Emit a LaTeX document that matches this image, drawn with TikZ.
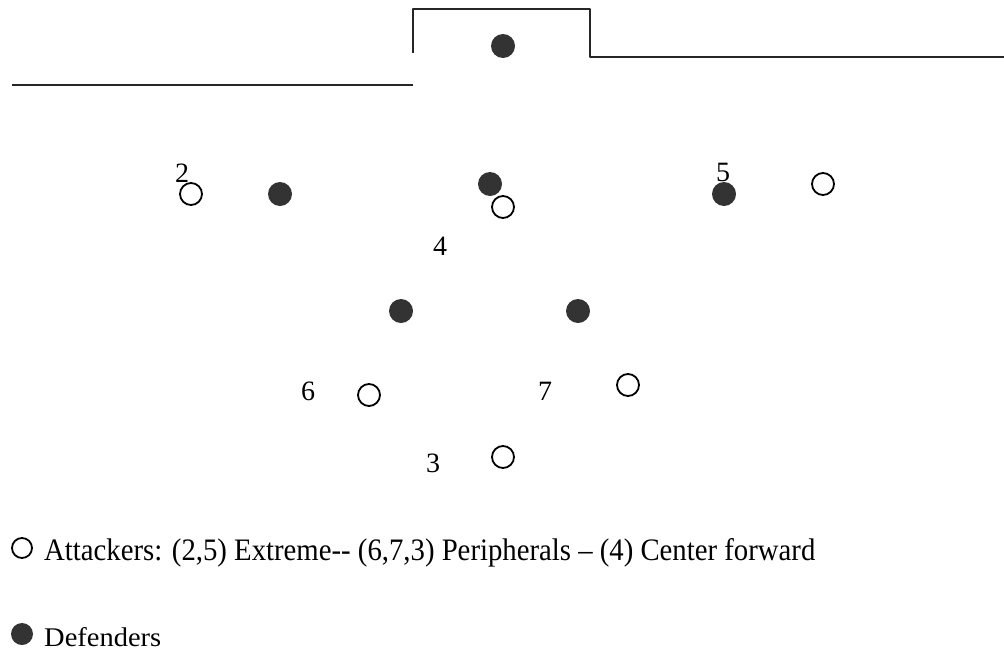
\documentclass[tikz,border=0pt]{standalone}
\usepackage{fontspec}
\setmainfont{Liberation Serif}
\usepackage{graphicx}
\begin{document}
\begin{tikzpicture}[x=1pt,y=-1pt,
  field/.style={line width=2pt,black!85},
  def/.style={circle,fill=black!80,inner sep=0pt,minimum size=24pt},
  att/.style={circle,draw=black,line width=1.8pt,fill=white,inner sep=0pt,minimum size=22pt},
  num/.style={anchor=base,inner sep=0pt,font=\fontsize{28}{28}\selectfont}]
\useasboundingbox (0,0) rectangle (1004,651);
% field lines
\coordinate (l1) at (12,85);
\coordinate (l2) at (413,85);
\coordinate (g1) at (413,53);
\coordinate (g2) at (413,9);
\coordinate (g3) at (590,9);
\coordinate (g4) at (590,57);
\coordinate (r1) at (1004,57);
\draw[field] (l1) -- (l2);
\draw[field,line join=round] (g1) -- (g2) -- (g3) -- (g4) -- (r1);
% defenders
\node[def] (gk) at (503,46) {};
\node[def] (d1) at (280,194) {};
\node[def] (d2) at (490,184) {};
\node[def] (d3) at (724,194) {};
\node[def] (d4) at (401,311) {};
\node[def] (d5) at (578,311) {};
% attackers
\node[att] (a2) at (191,194) {};
\node[att] (a4) at (503,207) {};
\node[att] (a5) at (823,184) {};
\node[att] (a6) at (369,395) {};
\node[att] (a7) at (628,385) {};
\node[att] (a3) at (503,457) {};
% numbers
\node[num] (n2) at (182,182) {2};
\node[num] (n5) at (723,181) {5};
\node[num] (n4) at (440,255) {4};
\node[num] (n6) at (308,400) {6};
\node[num] (n7) at (545,400) {7};
\node[num] (n3) at (433,472) {3};
% legend
\node[att,minimum size=20pt] (la) at (22,548) {};
\node[anchor=base west,inner sep=0pt] (lat) at (44,560) {\resizebox{771pt}{22pt}{Attackers: (2,5) Extreme-{}- (6,7,3) Peripherals – (4) Center forward}};
\node[def,minimum size=22pt] (ld) at (22,634) {};
\node[anchor=base west,inner sep=0pt] (ldt) at (44,646) {\resizebox{117pt}{19pt}{Defenders}};
\end{tikzpicture}
\end{document}
